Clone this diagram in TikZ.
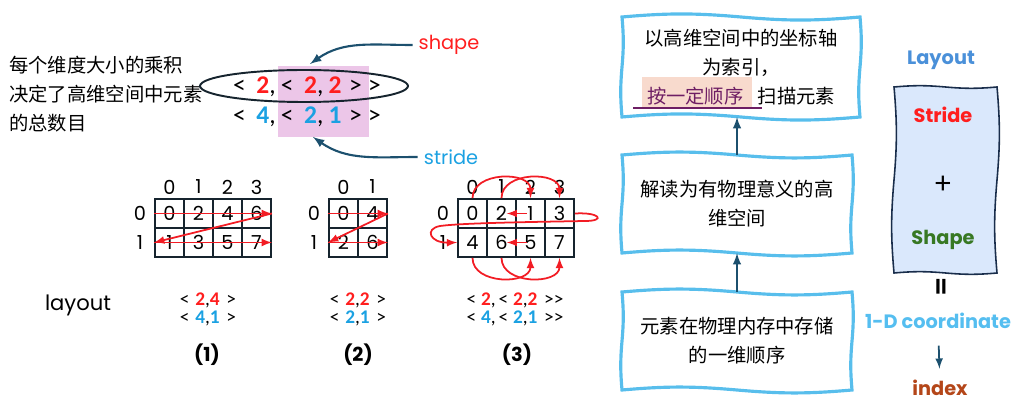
\documentclass[tikz,border=0pt]{standalone}
\usepackage{fontspec}
\setmainfont{Carlito}
\newfontfamily\cjk{Noto Sans CJK SC}
\newfontfamily\hand{Poppins}

\definecolor{tupred}{RGB}{255,30,30}
\definecolor{tupblue}{RGB}{27,161,226}
\definecolor{arrowred}{RGB}{242,28,36}
\definecolor{tealc}{RGB}{28,80,110}
\definecolor{gridcol}{RGB}{22,36,46}
\definecolor{boxblue}{RGB}{88,190,236}
\definecolor{pinkbg}{RGB}{236,198,232}
\definecolor{peach}{RGB}{248,218,205}
\definecolor{plum}{RGB}{110,30,100}
\definecolor{layoutblue}{RGB}{74,144,217}
\definecolor{fillblue}{RGB}{218,232,252}
\definecolor{navy}{RGB}{25,45,75}
\definecolor{coordblue}{RGB}{85,190,240}
\definecolor{shapegreen}{RGB}{55,120,35}
\definecolor{indexbrown}{RGB}{180,70,25}

\newcommand{\shp}[1]{\textbf{\textcolor{tupred}{#1}}}
\newcommand{\std}[1]{\textbf{\textcolor{tupblue}{#1}}}
% wavy frame: style, x1, y1, x2, y2
\newcommand{\wavyframe}[5]{%
	\pgfmathsetmacro\wxm{(#2+#4)/2}%
	\pgfmathsetmacro\wym{(#3+#5)/2}%
	\draw [#1] (#2,#3) to[out=5, in=175] (\wxm,#3) to[out=-5, in=185] (#4,#3)
		to[out=-85, in=85] (#4,\wym) to[out=-95, in=95] (#4,#5)
		to[out=185, in=-5] (\wxm,#5) to[out=175, in=5] (#2,#5)
		to[out=95, in=-95] (#2,\wym) to[out=85, in=-85] cycle;}

\begin{document}
\begin{tikzpicture}[x=0.02cm, y=-0.02cm,
	cell/.style={draw=gridcol, line width=1.1pt, minimum size=16.4pt, inner sep=0pt, font=\hand\fontsize{11}{13}\selectfont},
	idx/.style={font=\hand\fontsize{11}{13}\selectfont},
	jump/.style={draw=arrowred, line width=1pt, -latex},
	flow/.style={draw=tealc, line width=1.2pt, -latex},
	bigtup/.style={font=\fontsize{14.5}{16}\selectfont},
	tup/.style={align=center, font=\fontsize{11}{10.2}\selectfont},
	note/.style={align=center, font=\cjk\fontsize{11}{16.5}\selectfont},
	word/.style={font=\hand\bfseries\fontsize{11}{13}\selectfont},
	wavy/.style={draw=boxblue, line width=1.8pt}]
	\useasboundingbox (0,0) rectangle (1023,401);

	\node [note, align=left, anchor=west] (total) at (3,94) {每个维度大小的乘积\\决定了高维空间中元素\\的总数目};

	\fill [pinkbg] (278,66) rectangle (369,137);
	\node [bigtup] (shapetup) at (307,87) {<\hspace{0.42em}\shp{2},\hspace{0.2em}<\hspace{0.42em}\shp{2},\hspace{0.2em}\shp{2}\hspace{0.3em}>\hspace{0.25em}>};
	\node [bigtup] (stridetup) at (307,117) {<\hspace{0.42em}\std{4},\hspace{0.2em}<\hspace{0.42em}\std{2},\hspace{0.2em}\std{1}\hspace{0.3em}>\hspace{0.25em}>};
	\draw [gridcol, line width=1.1pt] (304,86) ellipse (104 and 16);

	\node [idx, text=tupred] (shapelbl) at (449,45) {shape};
	\node [idx, text=tupblue] (stridelbl) at (451,157) {stride};
	\coordinate (shapetip) at (310,64);
	\coordinate (stridetip) at (313,137);
	\draw [flow] (shapelbl.west) to[out=180, in=35] (shapetip);
	\draw [flow] (stridelbl.west) to[out=180, in=-35] (stridetip);

	% (1)
	\foreach \c/\a/\b in {0/0/1, 1/2/3, 2/4/5, 3/6/7} {
		\node [cell] (g1-0-\c) at (169.5+29*\c, 213.5) {\a};
		\node [cell] (g1-1-\c) at (169.5+29*\c, 242.5) {\b};
		\node [idx] (h1-\c) at (169.5+29*\c, 187) {\c};
	}
	\node [idx] (r1-0) at (140,213.5) {0};
	\node [idx] (r1-1) at (140,242.5) {1};
	\draw [jump] (g1-0-0.west) -- (g1-0-3.east);
	\draw [jump] (g1-0-3.east) -- (g1-1-0.west);
	\draw [jump] (g1-1-0.west) -- (g1-1-3.east);

	% (2)
	\foreach \c/\a/\b in {0/0/2, 1/4/6} {
		\node [cell] (g2-0-\c) at (343.5+29*\c, 213.5) {\a};
		\node [cell] (g2-1-\c) at (343.5+29*\c, 242.5) {\b};
		\node [idx] (h2-\c) at (343.5+29*\c, 187) {\c};
	}
	\node [idx] (r2-0) at (314,213.5) {0};
	\node [idx] (r2-1) at (314,242.5) {1};
	\draw [jump] (g2-0-0.west) -- (g2-0-1.east);
	\draw [jump] (g2-0-1.east) -- (g2-1-0.west);
	\draw [jump] (g2-1-0.west) -- (g2-1-1.east);

	% (3)
	\foreach \c/\a/\b in {0/0/4, 1/2/6, 2/1/5, 3/3/7} {
		\node [cell] (g3-0-\c) at (472.5+29*\c, 213.5) {\a};
		\node [cell] (g3-1-\c) at (472.5+29*\c, 242.5) {\b};
		\node [idx] (h3-\c) at (472.5+29*\c, 187) {\c};
	}
	\node [idx] (r3-0) at (443,213.5) {0};
	\node [idx] (r3-1) at (443,242.5) {1};
	\draw [jump] (g3-0-0.north) to[out=90, in=90, looseness=1.2] (g3-0-2.north);
	\draw [jump] (g3-0-1.north) to[out=90, in=90, looseness=1.2] (g3-0-3.north);
	\draw [jump, shorten <=2pt, shorten >=3pt] (g3-0-2.center) -- (g3-0-1.center);
	\draw [jump] (g3-0-3.east) .. controls (600,212) and (606,221) .. (585,221) .. controls (530,222) and (462,223) .. (440,226) .. controls (424,229) and (430,243) .. (g3-1-0.west);
	\draw [jump, shorten <=2pt, shorten >=3pt] (g3-1-2.center) -- (g3-1-1.center);
	\draw [jump] (g3-1-0.south) to[out=-90, in=-90, looseness=1.2] (g3-1-2.south);
	\draw [jump] (g3-1-1.south) to[out=-90, in=-90, looseness=1.2] (g3-1-3.south);

	\node [font=\hand\fontsize{12}{14}\selectfont] (layoutlbl) at (78,305) {layout};
	\node [tup] (lay1) at (208,309) {<\hspace{0.3em}\shp{2},\shp{4}\hspace{0.35em}>\\<\hspace{0.3em}\std{4},\std{1}\hspace{0.35em}>};
	\node [tup] (lay2) at (358,309) {<\hspace{0.3em}\shp{2},\shp{2}\hspace{0.35em}>\\<\hspace{0.3em}\std{2},\std{1}\hspace{0.35em}>};
	\node [tup] (lay3) at (515,309) {<\hspace{0.25em}\shp{2},\hspace{0.15em}<\hspace{0.25em}\shp{2},\shp{2}\hspace{0.35em}>{}>\\<\hspace{0.25em}\std{4},\hspace{0.15em}<\hspace{0.25em}\std{2},\std{1}\hspace{0.35em}>{}>};
	\node [word] (cap1) at (207,355) {(1)};
	\node [word] (cap2) at (358,355) {(2)};
	\node [word] (cap3) at (517,355) {(3)};

	\fill [peach] (642,77) rectangle (752,107);
	\wavyframe{wavy}{622}{17}{860}{117}
	\node [note, minimum width=135pt, minimum height=56.7pt] (scan) at (741,67) {以高维空间中的坐标轴\\为索引，\\\textcolor{plum}{按一定顺序}\hspace{8pt}扫描元素};
	\draw [plum, line width=1.2pt] (633,108) -- (762,108);
	\wavyframe{wavy}{622}{155}{852}{253}
	\node [note, minimum width=130.4pt, minimum height=55.6pt] (view) at (737,204) {解读为有物理意义的高\\维空间};
	\wavyframe{wavy}{622}{292}{852}{390}
	\node [note, minimum width=130.4pt, minimum height=55.6pt] (store) at (737,341) {元素在物理内存中存储\\的一维顺序};
	\draw [flow] (store.north) -- (view.south);
	\draw [flow] (view.north) -- (view.north |- scan.south);

	\node [word, text=layoutblue] (layouttitle) at (941,60) {Layout};
	\wavyframe{draw=navy, fill=fillblue, line width=0.9pt}{894}{87}{997}{273}
	\node [minimum width=58.4pt, minimum height=105.5pt] (layoutbox) at (945.5,180) {};
	\node [word, text=tupred] (stridew) at (943,115) {Stride};
	\node [font=\fontsize{18}{20}\selectfont] (plus) at (943,185) {+};
	\node [word, text=shapegreen] (shapew) at (943,240) {Shape};
	\node [rotate=90, font=\bfseries\fontsize{20}{22}\selectfont] (equals) at (945,287) {=};
	\node [word, text=coordblue] (coord) at (938,321) {1-D coordinate};
	\node [word, text=indexbrown] (index) at (940,388) {index};
	\draw [flow, line width=1pt, shorten <=6pt, shorten >=3pt] (coord) -- (index);
\end{tikzpicture}
\end{document}
